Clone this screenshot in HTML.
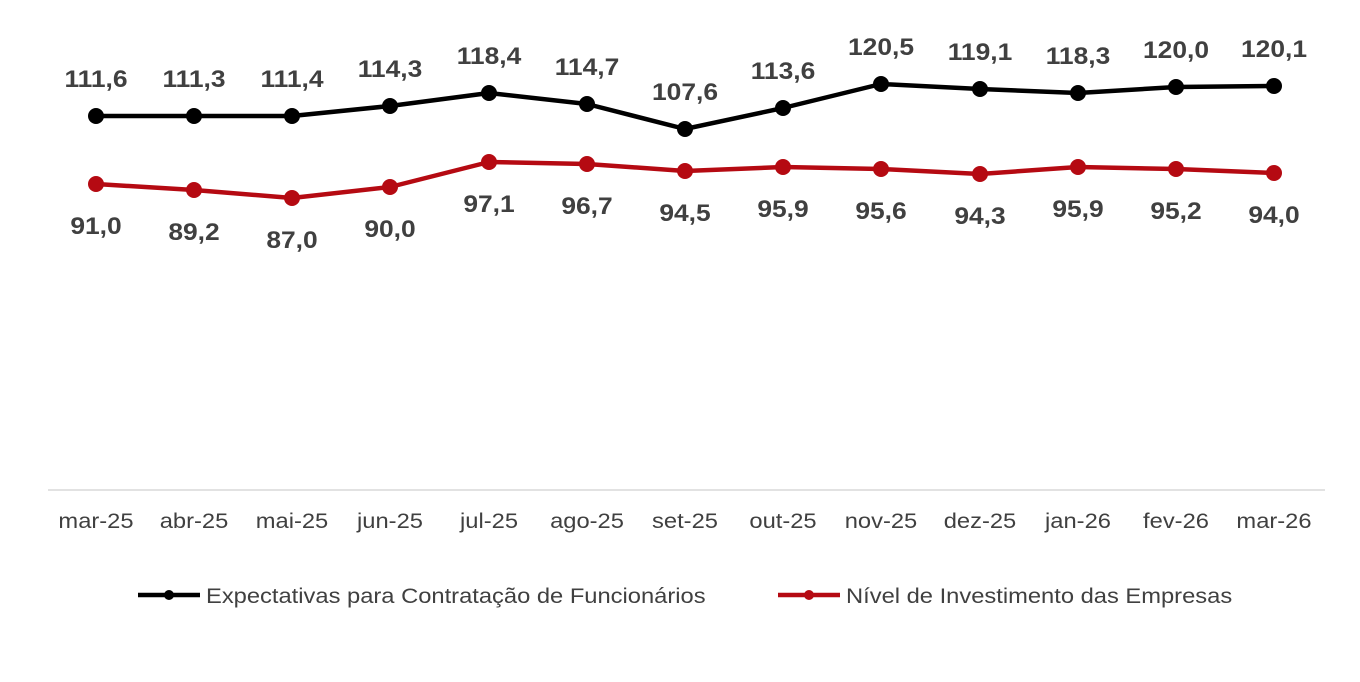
<!DOCTYPE html>
<html><head><meta charset="utf-8"><style>
html,body{margin:0;padding:0;background:#fff;}
svg{display:block;font-family:"Liberation Sans",Arial,sans-serif;}
</style></head><body>
<svg width="1360" height="682" viewBox="0 0 1360 682" xmlns="http://www.w3.org/2000/svg">
<line x1="48" y1="490" x2="1325" y2="490" stroke="#d9d9d9" stroke-width="1.5"/>
<g font-size="21" fill="#404040" text-anchor="middle">
<text transform="translate(96,528) scale(1.13,1)">mar-25</text>
<text transform="translate(194,528) scale(1.13,1)">abr-25</text>
<text transform="translate(292,528) scale(1.13,1)">mai-25</text>
<text transform="translate(390,528) scale(1.13,1)">jun-25</text>
<text transform="translate(489,528) scale(1.13,1)">jul-25</text>
<text transform="translate(587,528) scale(1.13,1)">ago-25</text>
<text transform="translate(685,528) scale(1.13,1)">set-25</text>
<text transform="translate(783,528) scale(1.13,1)">out-25</text>
<text transform="translate(881,528) scale(1.13,1)">nov-25</text>
<text transform="translate(980,528) scale(1.13,1)">dez-25</text>
<text transform="translate(1078,528) scale(1.13,1)">jan-26</text>
<text transform="translate(1176,528) scale(1.13,1)">fev-26</text>
<text transform="translate(1274,528) scale(1.13,1)">mar-26</text>
</g>
<polyline fill="none" stroke="#000" stroke-width="4.5" stroke-linejoin="round"
points="96,116 194,116 292,116 390,106 489,93 587,104 685,129 783,108 881,84 980,89 1078,93 1176,87 1274,86"/>
<g fill="#000">
<circle cx="96" cy="116" r="8"/><circle cx="194" cy="116" r="8"/><circle cx="292" cy="116" r="8"/>
<circle cx="390" cy="106" r="8"/><circle cx="489" cy="93" r="8"/><circle cx="587" cy="104" r="8"/>
<circle cx="685" cy="129" r="8"/><circle cx="783" cy="108" r="8"/><circle cx="881" cy="84" r="8"/>
<circle cx="980" cy="89" r="8"/><circle cx="1078" cy="93" r="8"/><circle cx="1176" cy="87" r="8"/>
<circle cx="1274" cy="86" r="8"/>
</g>
<polyline fill="none" stroke="#b50a12" stroke-width="4.5" stroke-linejoin="round"
points="96,184 194,190 292,198 390,187 489,162 587,164 685,171 783,167 881,169 980,174 1078,167 1176,169 1274,173"/>
<g fill="#b50a12">
<circle cx="96" cy="184" r="8"/><circle cx="194" cy="190" r="8"/><circle cx="292" cy="198" r="8"/>
<circle cx="390" cy="187" r="8"/><circle cx="489" cy="162" r="8"/><circle cx="587" cy="164" r="8"/>
<circle cx="685" cy="171" r="8"/><circle cx="783" cy="167" r="8"/><circle cx="881" cy="169" r="8"/>
<circle cx="980" cy="174" r="8"/><circle cx="1078" cy="167" r="8"/><circle cx="1176" cy="169" r="8"/>
<circle cx="1274" cy="173" r="8"/>
</g>
<g font-size="24" font-weight="bold" fill="#404040" text-anchor="middle">
<text transform="translate(96,87) scale(1.1,1)">111,6</text>
<text transform="translate(194,87) scale(1.1,1)">111,3</text>
<text transform="translate(292,87) scale(1.1,1)">111,4</text>
<text transform="translate(390,77) scale(1.1,1)">114,3</text>
<text transform="translate(489,64) scale(1.1,1)">118,4</text>
<text transform="translate(587,75) scale(1.1,1)">114,7</text>
<text transform="translate(685,100) scale(1.1,1)">107,6</text>
<text transform="translate(783,79) scale(1.1,1)">113,6</text>
<text transform="translate(881,55) scale(1.1,1)">120,5</text>
<text transform="translate(980,60) scale(1.1,1)">119,1</text>
<text transform="translate(1078,64) scale(1.1,1)">118,3</text>
<text transform="translate(1176,58) scale(1.1,1)">120,0</text>
<text transform="translate(1274,57) scale(1.1,1)">120,1</text>
<text transform="translate(96,234) scale(1.1,1)">91,0</text>
<text transform="translate(194,240) scale(1.1,1)">89,2</text>
<text transform="translate(292,248) scale(1.1,1)">87,0</text>
<text transform="translate(390,237) scale(1.1,1)">90,0</text>
<text transform="translate(489,212) scale(1.1,1)">97,1</text>
<text transform="translate(587,214) scale(1.1,1)">96,7</text>
<text transform="translate(685,221) scale(1.1,1)">94,5</text>
<text transform="translate(783,217) scale(1.1,1)">95,9</text>
<text transform="translate(881,219) scale(1.1,1)">95,6</text>
<text transform="translate(980,224) scale(1.1,1)">94,3</text>
<text transform="translate(1078,217) scale(1.1,1)">95,9</text>
<text transform="translate(1176,219) scale(1.1,1)">95,2</text>
<text transform="translate(1274,223) scale(1.1,1)">94,0</text>
</g>
<line x1="138" y1="595" x2="200" y2="595" stroke="#000" stroke-width="4.5"/>
<circle cx="169" cy="595" r="5" fill="#000"/>
<text transform="translate(206,603) scale(1.13,1)" font-size="21" fill="#404040">Expectativas para Contratação de Funcionários</text>
<line x1="778" y1="595" x2="840" y2="595" stroke="#b50a12" stroke-width="4.5"/>
<circle cx="809" cy="595" r="5" fill="#b50a12"/>
<text transform="translate(846,603) scale(1.13,1)" font-size="21" fill="#404040">Nível de Investimento das Empresas</text>
</svg>
</body></html>
